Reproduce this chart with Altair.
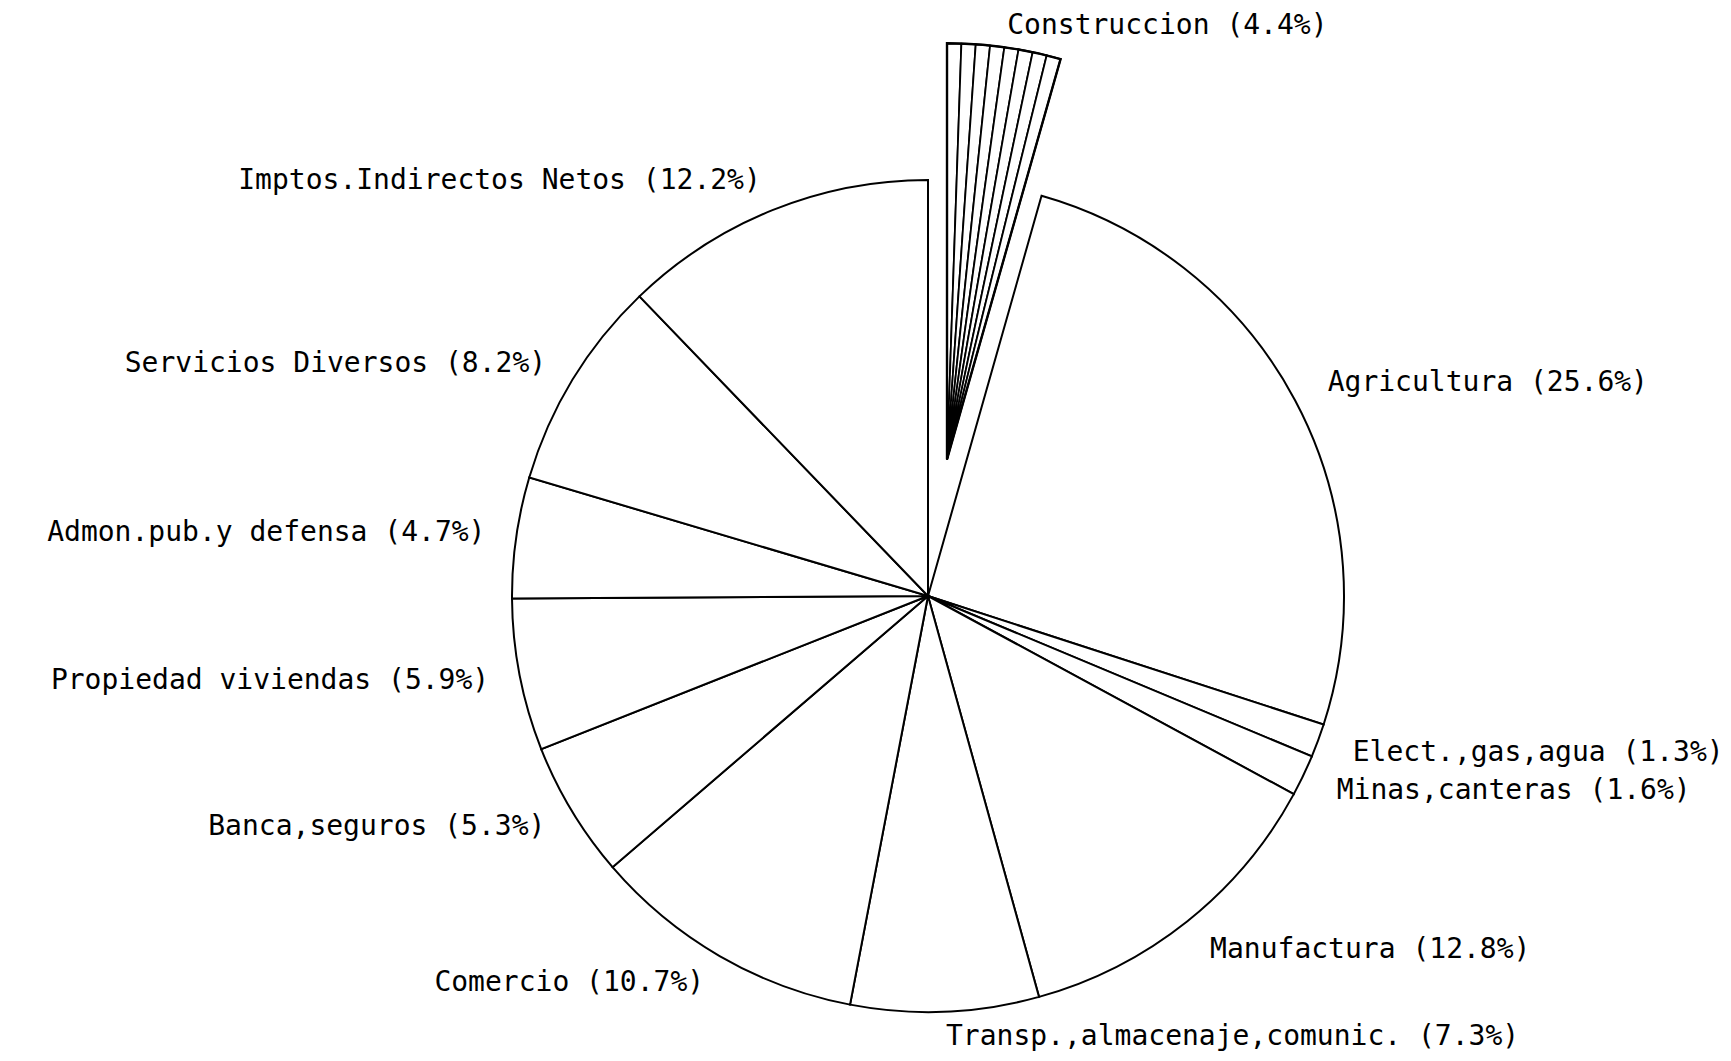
import math
import altair as alt
import pandas as pd

# ---- data ----
sectors = [
    "Construccion",
    "Agricultura",
    "Elect.,gas,agua",
    "Minas,canteras",
    "Manufactura",
    "Transp.,almacenaje,comunic.",
    "Comercio",
    "Banca,seguros",
    "Propiedad viviendas",
    "Admon.pub.y defensa",
    "Servicios Diversos",
    "Imptos.Indirectos Netos",
]
shares = [4.4, 25.6, 1.3, 1.6, 12.8, 7.3, 10.7, 5.3, 5.9, 4.7, 8.2, 12.2]
exploded = ["Construccion"]
hatch_lines = 8

# ---- layout ----
W, H = 1715, 1045
CX, CY = 920, 588
R = 416
EXPLODE = 138
LABEL_R = 441
FONT = "DejaVu Sans Mono"

df = pd.DataFrame({"sector": sectors, "share": shares})
df["end"] = df["share"].cumsum()
df["start"] = df["end"] - df["share"]
df["mid"] = (df["start"] + df["end"]) / 2
df["label"] = df["sector"] + " (" + df["share"].map(lambda v: f"{v:.1f}") + "%)"
df["expl"] = df["sector"].isin(exploded)

theta_scale = alt.Scale(domain=[0, 100], range=[0, 2 * math.pi])

main = df[~df["expl"]]
exp_row = df[df["expl"]].iloc[0]
ang = exp_row["mid"] / 100 * 2 * math.pi
ECX = CX + EXPLODE * math.sin(ang)
ECY = CY - EXPLODE * math.cos(ang)

# hatching of the exploded slice: split it in equal thin sub-slices
step = exp_row["share"] / hatch_lines
hatch = pd.DataFrame({
    "start": [exp_row["start"] + i * step for i in range(hatch_lines)],
    "end": [exp_row["start"] + (i + 1) * step for i in range(hatch_lines)],
})

arc_main = alt.Chart(main).mark_arc(
    radius=R, fill="white", stroke="black", strokeWidth=2
).encode(
    theta=alt.Theta("start:Q", scale=theta_scale, stack=None),
    theta2="end:Q",
    x=alt.value(CX),
    y=alt.value(CY),
)

arc_hatch = alt.Chart(hatch).mark_arc(
    radius=R, fill="white", stroke="black", strokeWidth=1.8
).encode(
    theta=alt.Theta("start:Q", scale=theta_scale, stack=None),
    theta2="end:Q",
    x=alt.value(ECX),
    y=alt.value(ECY),
)

arc_exp_outline = alt.Chart(df[df["expl"]]).mark_arc(
    radius=R, fill=None, stroke="black", strokeWidth=2.4, filled=False
).encode(
    theta=alt.Theta("start:Q", scale=theta_scale, stack=None),
    theta2="end:Q",
    x=alt.value(ECX),
    y=alt.value(ECY),
)

txt_kw = dict(font=FONT, fontSize=28, color="black", baseline="middle")


def label_layer(data, align, radius, cx, cy):
    return alt.Chart(data).mark_text(align=align, **txt_kw).encode(
        theta=alt.Theta("mid:Q", scale=theta_scale, stack=None),
        radius=alt.value(radius),
        x=alt.value(cx),
        y=alt.value(cy),
        text="label:N",
    )


left_labels = label_layer(main[main["mid"] > 50], "right", LABEL_R + 6, CX, CY)
right_upper = label_layer(main[main["mid"] <= 45], "left", LABEL_R + 12, CX, CY)
right_bottom = label_layer(
    main[(main["mid"] > 45) & (main["mid"] <= 50)], "left", LABEL_R, CX, CY
)
exp_label = label_layer(df[df["expl"]], "left", LABEL_R - 4, ECX, ECY)

chart = alt.layer(
    arc_main, arc_hatch, arc_exp_outline,
    left_labels, right_upper, right_bottom, exp_label,
).properties(
    width=W, height=H, padding=0, autosize=alt.AutoSizeParams(type="none"),
    background="white",
).configure_view(stroke=None)

chart.save("out.html", embed_options={"renderer": "svg", "actions": False})
